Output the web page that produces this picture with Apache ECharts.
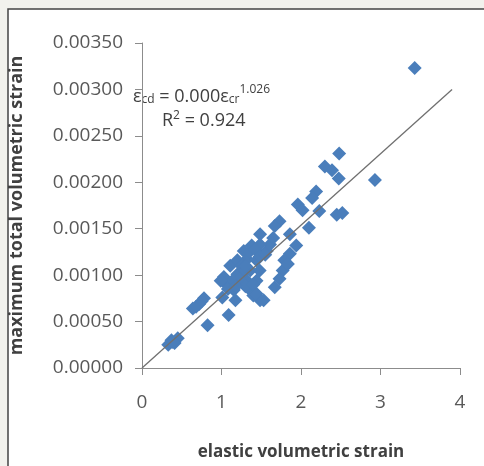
<!DOCTYPE html>
<html>
<head>
<meta charset="utf-8">
<script src="https://cdn.jsdelivr.net/npm/echarts@6/dist/echarts.min.js"></script>
<style>
  html, body { margin: 0; padding: 0; background: #f2f2ed; }
  #chart { width: 484px; height: 466px; }
</style>
</head>
<body>
<div id="chart"></div>
<script>
// elastic volumetric strain (x) vs maximum total volumetric strain (y)
var elasticStrain = [
  3.43, 2.93, 2.48, 2.30, 2.39, 2.475, 2.45, 2.52, 2.19, 2.14,
  2.23, 2.10, 1.96, 2.02, 1.73, 1.67, 1.86, 1.94, 1.86, 1.79,
  1.77, 1.73, 1.67, 1.485, 1.57, 1.61, 1.38, 1.28, 1.32, 1.44,
  1.36, 1.20, 1.11, 1.03, 1.05, 1.20, 1.32, 1.44, 1.36, 1.155,
  1.01, 1.40, 1.485, 1.175, 1.09, 0.825, 0.78, 0.72, 0.64, 0.37,
  0.45, 0.33, 0.41, 1.20, 1.485, 1.65, 1.835, 1.08, 1.15, 1.25,
  1.30, 1.25, 1.35, 1.42, 1.30, 1.18, 1.40, 1.48, 0.99, 1.48,
  1.55, 0.68, 0.75, 0.38, 1.30, 1.44, 1.53
];
var totalStrain = [
  0.00323, 0.002025, 0.00231, 0.00217, 0.00213, 0.00204, 0.00165, 0.00167, 0.00190, 0.00183,
  0.00169, 0.00151, 0.00176, 0.00170, 0.00158, 0.00153, 0.00144, 0.00132, 0.00123, 0.00116,
  0.00105, 0.00096, 0.00087, 0.00144, 0.00126, 0.00133, 0.00132, 0.00126, 0.00117, 0.00116,
  0.00105, 0.00101, 0.00110, 0.00098, 0.00091, 0.00091, 0.00094, 0.00094, 0.00084, 0.00084,
  0.00076, 0.00078, 0.00073, 0.00073, 0.00057, 0.00046, 0.00075, 0.00069, 0.00064, 0.00030,
  0.00032, 0.00025, 0.00027, 0.00116, 0.00133, 0.00140, 0.00112, 0.00085, 0.00095, 0.00098,
  0.00088, 0.00110, 0.00125, 0.00128, 0.00105, 0.00088, 0.00090, 0.00105, 0.00094, 0.00120,
  0.00122, 0.00066, 0.00072, 0.00028, 0.00110, 0.00080, 0.00073
];
// power trendline endpoints as drawn
var trendX = [0, 3.9];
var trendY = [0, 0.00300];

var xTicks = ["0", "1", "2", "3", "4"];

var points = elasticStrain.map(function (x, i) { return [x, totalStrain[i]]; });
var trend = trendX.map(function (x, i) { return [x, trendY[i]]; });

var chartDom = document.getElementById("chart");
var myChart = echarts.init(chartDom);

var labelFont = "'Open Sans', sans-serif";

var option = {
  backgroundColor: "transparent",
  animation: false,
  grid: {
    left: 137,
    right: 24,
    top: 43,
    bottom: 94,
    containLabel: false
  },
  xAxis: {
    type: "value",
    min: 0,
    max: 4,
    interval: 1,
    name: "elastic volumetric strain",
    nameLocation: "middle",
    nameGap: 76,
    nameTextStyle: { color: "#404040", fontSize: 17, fontWeight: "bold", fontFamily: labelFont },
    axisLine: { show: true, lineStyle: { color: "#8c8c8c", width: 1 } },
    axisTick: { show: true, length: 7, lineStyle: { color: "#8c8c8c" } },
    splitLine: { show: false },
    axisLabel: {
      margin: 25,
      color: "#595959",
      fontSize: 19,
      fontFamily: labelFont,
      formatter: function (v) { return xTicks[Math.round(v)]; }
    }
  },
  yAxis: {
    type: "value",
    min: 0,
    max: 0.0035,
    interval: 0.0005,
    name: "maximum total volumetric strain",
    nameLocation: "middle",
    nameGap: 116,
    nameTextStyle: { color: "#404040", fontSize: 18, fontWeight: "bold", fontFamily: labelFont },
    axisLine: { show: true, lineStyle: { color: "#8c8c8c", width: 1 } },
    axisTick: { show: true, length: 7, lineStyle: { color: "#8c8c8c" } },
    splitLine: { show: false },
    axisLabel: {
      margin: 19,
      color: "#595959",
      fontSize: 19,
      fontFamily: labelFont,
      formatter: function (v) { return v.toFixed(5); }
    }
  },
  graphic: [
    {
      type: "rect",
      z: -10,
      silent: true,
      shape: { x: 8, y: 9, width: 520, height: 520 },
      style: { fill: "#ffffff", stroke: "#444444", lineWidth: 1.5 }
    },
    {
      type: "text",
      left: 133,
      top: 84,
      style: {
        text: "{e|ε}{s|cd}{e| = 0.000ε}{s|cr}{p|1.026}",
        rich: {
          e: { fontSize: 18, fontFamily: labelFont, fill: "#404040", verticalAlign: "bottom" },
          s: { fontSize: 12, fontFamily: labelFont, fill: "#404040", padding: [6, 0, 0, 0], verticalAlign: "bottom" },
          p: { fontSize: 12, fontFamily: labelFont, fill: "#404040", padding: [0, 0, 10, 0], verticalAlign: "bottom" }
        }
      }
    },
    {
      type: "text",
      left: 162,
      top: 110,
      style: {
        text: "{e|R}{p|2}{e| = 0.924}",
        rich: {
          e: { fontSize: 18, fontFamily: labelFont, fill: "#404040", verticalAlign: "bottom" },
          p: { fontSize: 12, fontFamily: labelFont, fill: "#404040", padding: [0, 0, 8, 0], verticalAlign: "bottom" }
        }
      }
    }
  ],
  series: [
    {
      name: "data",
      type: "scatter",
      symbol: "diamond",
      symbolSize: 14,
      data: points,
      itemStyle: { color: "#4a7ebb", opacity: 1 },
      z: 2
    },
    {
      name: "trend",
      type: "line",
      data: trend,
      symbol: "none",
      lineStyle: { color: "#707070", width: 1.3 },
      z: 3
    }
  ]
};

option && myChart.setOption(option);
</script>
</body>
</html>
